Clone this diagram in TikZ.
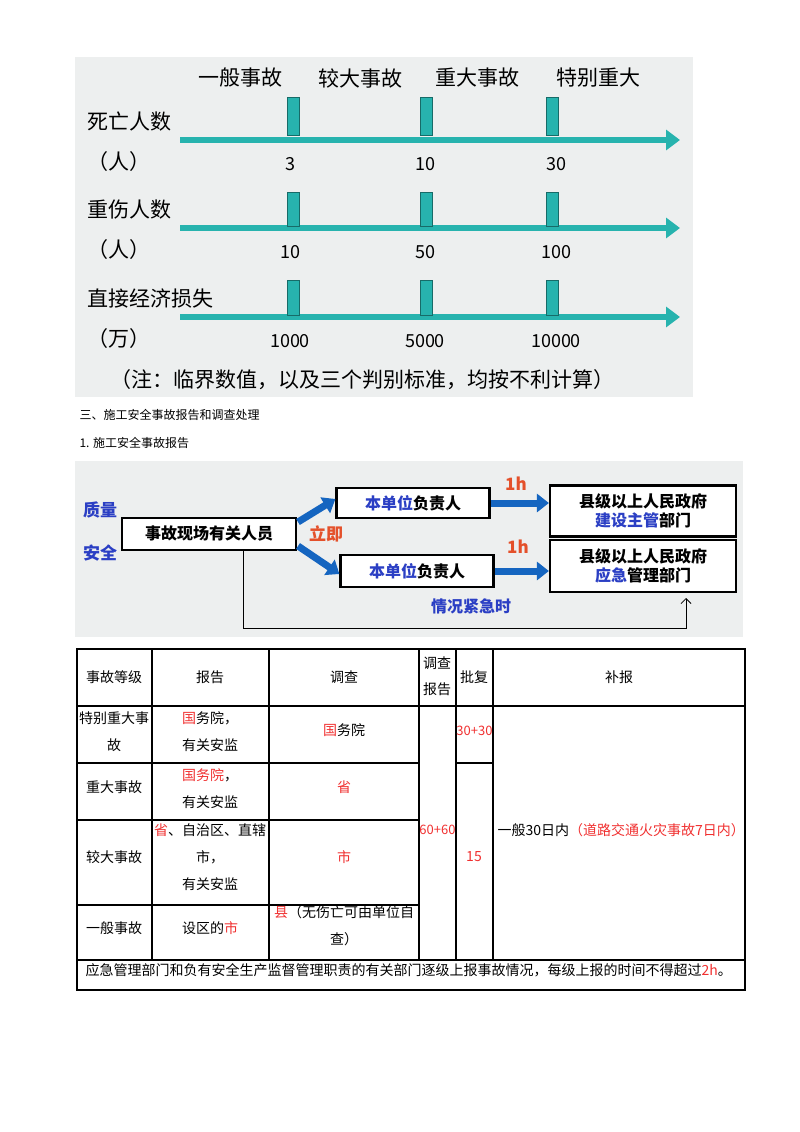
\documentclass[tikz,border=0pt]{standalone}
\usepackage{fontspec}
\setmainfont{Noto Sans CJK SC}
\usetikzlibrary{arrows.meta}
\definecolor{teal1}{HTML}{27B3AE}
\definecolor{bgray}{HTML}{EDEFEF}
\definecolor{ablue}{HTML}{1565C0}
\definecolor{tblue}{HTML}{2B3FC4}
\definecolor{ored}{HTML}{E4502A}
\definecolor{tred}{HTML}{F03030}
\newcommand{\R}[1]{\textcolor{tred}{#1}}
\begin{document}
\begin{tikzpicture}[x=1pt,y=-1pt,
  lbl/.style={font=\fontsize{21}{24}\selectfont},
  num/.style={font=\fontsize{18}{20}\selectfont},
  tick/.style={fill=teal1,draw=teal1!60!black,line width=0.6pt},
  axis/.style={teal1,line width=6pt,-{Triangle[length=14pt,width=20pt]}},
  box/.style={draw,line width=2.2pt,fill=white,font=\fontsize{16}{19}\selectfont\bfseries,align=center,inner sep=0pt},
  barr/.style={ablue,line width=7pt,-{Triangle[length=12pt,width=18pt]}},
  tc/.style={font=\fontsize{14}{27}\selectfont,align=center},
  tn/.style={font=\fontsize{13}{15}\selectfont,inner sep=0pt},
]
\useasboundingbox (0,0) rectangle (800,1132);
% top panel
\fill[bgray] (75,57) rectangle (693,397);
\foreach \t/\x in {一般事故/240,较大事故/360,重大事故/477,特别重大/598}
  \node[lbl] (h\x) at (\x,78) {\t};
\foreach \yl/\ya/\yb/\lab/\unit/\a/\b/\c in {140/97/135/死亡人数/（人）/3/10/30, 228/192/226/重伤人数/（人）/10/50/100, 317/280/315/直接经济损失/（万）/1000/5000/10000}{
  \coordinate (s\yl) at (180,\yl);
  \coordinate (e\yl) at (680,\yl);
  \draw[axis] (s\yl) -- (e\yl);
  \foreach \x in {287,420,546} \draw[tick] (\x,\ya) rectangle (\x+12,\yb);
  \node[num] at (290,\yl+24) {\a};
  \node[num] at (425,\yl+24) {\b};
  \node[num] at (556,\yl+24) {\c};
  \node[lbl,anchor=west] at (84,\yl-18) {\lab};
  \node[lbl,anchor=west] at (84,\yl+22) {\unit};
}
\node[lbl] (note) at (362,380) {（注：临界数值，以及三个判别标准，均按不利计算）};
\node[anchor=west,font=\fontsize{12}{14}\selectfont] (t1) at (76,415) {三、施工安全事故报告和调查处理};
\node[anchor=west,font=\fontsize{12}{14}\selectfont] (t2) at (76,443) {1. 施工安全事故报告};
% middle panel
\fill[bgray] (75,461) rectangle (743,637);
\node[font=\fontsize{17}{19}\selectfont\bfseries,text=tblue] (zl) at (100,510) {质量};
\node[font=\fontsize{17}{19}\selectfont\bfseries,text=tblue] (aq) at (100,553) {安全};
\node[box,minimum width=174pt,minimum height=32pt] (src) at (209,534) {事故现场有关人员};
\node[box,minimum width=153pt,minimum height=30pt] (u1) at (413,503) {\textcolor{tblue}{本单位}负责人};
\node[box,minimum width=153pt,minimum height=32pt] (u2) at (417,571) {\textcolor{tblue}{本单位}负责人};
\node[box,minimum width=186pt,minimum height=51pt] (g1) at (643,511) {县级以上人民政府\\\textcolor{tblue}{建设主管}部门};
\node[box,minimum width=186pt,minimum height=52pt] (g2) at (643,566) {县级以上人民政府\\\textcolor{tblue}{应急}管理部门};
\draw[barr] (298,522) -- (u1.west|-0,499);
\draw[barr] (298,546) -- (u2.west|-0,574);
\draw[barr] (u1.east) -- (g1.west|-u1.east);
\draw[barr] (u2.east) -- (g2.west|-u2.east);
\node[font=\fontsize{17}{19}\selectfont\bfseries,text=ored] (lj) at (326,534) {立即};
\node[font=\fontsize{17}{19}\selectfont\bfseries,text=ored] (h1) at (516,484) {1h};
\node[font=\fontsize{17}{19}\selectfont\bfseries,text=ored] (h2) at (518,547) {1h};
\node[font=\fontsize{16}{19}\selectfont\bfseries,text=tblue] (jj) at (471,606) {情况紧急时};
\coordinate (c1) at (243,628);
\coordinate (c2) at (686,628);
\draw[line width=0.8pt,-{Straight Barb[length=5pt]}] (243,550) -- (c1) -- (c2) -- (686,598);
% table
\begin{scope}[line width=1.2pt]
\draw (77,649) rectangle (745,990);
\foreach \y in {706} \draw (77,\y) -- (745,\y);
\foreach \y in {763,820,905} \draw (77,\y) -- (419,\y);
\draw (456,763) -- (493,763);
\draw (77,960) -- (745,960);
\foreach \x in {152,269,419,456,493} \draw (\x,649) -- (\x,960);
\end{scope}
\node[tc] at (114,677) {事故等级};
\node[tc] at (210,677) {报告};
\node[tc] at (344,677) {调查};
\node[tc,font=\fontsize{14}{26}\selectfont] at (437,676) {调查\\报告};
\node[tc] at (474,677) {批复};
\node[tc] at (619,677) {补报};
\node[tc] at (114,732) {特别重大事\\故};
\node[tc] at (210,732) {\R{国}务院，\\有关安监};
\node[tc] at (344,730) {\R{国}务院};
\node[tn] at (474.5,731) {\R{30+30}};
\node[tc] at (114,787) {重大事故};
\node[tc] at (210,789) {\R{国务院}，\\有关安监};
\node[tc] at (344,787) {\R{省}};
\node[tc] at (114,857) {较大事故};
\node[tc] at (210,857) {\R{省}、自治区、直辖\\市，\\有关安监};
\node[tc] at (344,857) {\R{市}};
\node[tc] at (114,928) {一般事故};
\node[tc] at (210,928) {设区的\R{市}};
\node[tc] at (344,926) {\R{县}（无伤亡可由单位自\\查）};
\node[tn] at (437.5,830) {\R{60+60}};
\node[tc] at (474,857) {\R{15}};
\node[tc,anchor=west] at (494,830) {一般30日内\R{（道路交通火灾事故7日内）}};
\node[tc,anchor=west] at (82,970) {应急管理部门和负有安全生产监督管理职责的有关部门逐级上报事故情况，每级上报的时间不得超过\R{2h}。};
\end{tikzpicture}
\end{document}
